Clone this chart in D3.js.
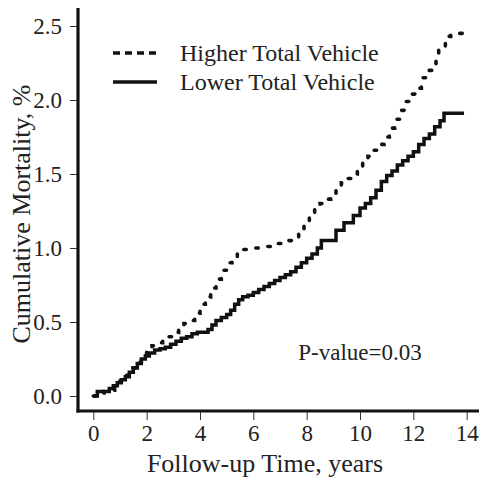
<!DOCTYPE html>
<html>
<head>
<meta charset="utf-8">
<script src="https://cdn.jsdelivr.net/npm/d3@7"></script>
<style>
  body { margin: 0; background: #fff; }
  text { font-family: "Liberation Serif", "Times New Roman", serif; fill: #222; }
</style>
</head>
<body>
<div id="vis"></div>
<script>
// follow-up years and cumulative mortality (%)
var higherTime = [0, 0.2, 0.4, 0.6, 0.8, 1.0, 1.2, 1.4, 1.6, 1.8, 2.0, 2.2, 2.4, 2.6, 2.8, 3.0, 3.2, 3.4, 3.6, 3.8, 4.0, 4.2, 4.4, 4.6, 4.8, 5.0, 5.2, 5.4, 5.6, 6.0, 6.4, 6.8, 7.2, 7.5, 7.7, 7.9, 8.1, 8.3, 8.5, 8.7, 8.9, 9.1, 9.3, 9.5, 9.7, 9.9, 10.1, 10.3, 10.5, 10.7, 10.9, 11.1, 11.3, 11.5, 11.7, 11.9, 12.1, 12.3, 12.5, 12.7, 12.85, 12.95, 13.2, 13.4, 13.97];
var higherVal  = [0, 0.02, 0.03, 0.04, 0.07, 0.10, 0.14, 0.19, 0.23, 0.28, 0.32, 0.34, 0.36, 0.38, 0.40, 0.43, 0.46, 0.49, 0.51, 0.56, 0.62, 0.67, 0.73, 0.79, 0.85, 0.90, 0.94, 0.97, 0.99, 1.00, 1.01, 1.03, 1.05, 1.07, 1.10, 1.15, 1.21, 1.26, 1.30, 1.33, 1.37, 1.41, 1.44, 1.47, 1.50, 1.54, 1.58, 1.62, 1.66, 1.70, 1.75, 1.81, 1.87, 1.93, 1.99, 2.04, 2.08, 2.15, 2.20, 2.23, 2.30, 2.36, 2.43, 2.45, 2.45];

var lowerTime = [0, 0.15, 0.6, 0.75, 0.9, 1.05, 1.2, 1.35, 1.5, 1.65, 1.8, 1.95, 2.1, 2.3, 2.5, 2.7, 2.9, 3.1, 3.3, 3.5, 3.7, 3.9, 4.3, 4.45, 4.6, 4.8, 5.0, 5.15, 5.3, 5.45, 5.6, 5.8, 6.0, 6.2, 6.4, 6.6, 6.8, 7.0, 7.2, 7.4, 7.6, 7.8, 8.0, 8.2, 8.4, 8.55, 9.1, 9.4, 9.75, 10.0, 10.2, 10.4, 10.6, 10.8, 11.0, 11.2, 11.4, 11.6, 11.8, 12.0, 12.2, 12.4, 12.6, 12.8, 13.0, 13.15, 13.9];
var lowerVal  = [0, 0.03, 0.05, 0.07, 0.09, 0.11, 0.13, 0.16, 0.19, 0.22, 0.25, 0.27, 0.29, 0.31, 0.32, 0.33, 0.35, 0.37, 0.39, 0.40, 0.42, 0.43, 0.45, 0.48, 0.51, 0.53, 0.55, 0.58, 0.62, 0.65, 0.67, 0.68, 0.70, 0.72, 0.74, 0.76, 0.78, 0.80, 0.82, 0.84, 0.87, 0.90, 0.93, 0.96, 1.00, 1.05, 1.12, 1.17, 1.22, 1.27, 1.30, 1.34, 1.39, 1.45, 1.49, 1.52, 1.56, 1.59, 1.62, 1.65, 1.70, 1.74, 1.77, 1.82, 1.86, 1.91, 1.91];

var xTicks = [0, 2, 4, 6, 8, 10, 12, 14];
var yTicks = [0, 0.5, 1.0, 1.5, 2.0, 2.5];
var seriesNames = ["Higher Total Vehicle", "Lower Total Vehicle"];
var pLabel = "P-value=0.03";

var W = 479, H = 479;

var x = d3.scaleLinear().domain([0, 14]).range([93.3, 466.7]);
var y = d3.scaleLinear().domain([0, 2.5]).range([396, 26]);

var svg = d3.select("#vis").append("svg")
    .attr("width", W)
    .attr("height", H);

function toPts(ts, vs) {
  return ts.map(function(t, i) { return [t, vs[i]]; });
}

var line = d3.line()
    .x(function(d) { return x(d[0]); })
    .y(function(d) { return y(d[1]); })
    .curve(d3.curveStepAfter);

////////// axes //////////

var yAxis = svg.append("g")
    .attr("transform", "translate(78,0)")
    .call(d3.axisLeft(y).tickValues(yTicks).tickFormat(d3.format(".1f")).tickSize(8).tickPadding(8));
yAxis.select(".domain").remove();
yAxis.selectAll("text").style("font-size", "23px").style("font-family", "Liberation Serif");
yAxis.selectAll("line").attr("stroke", "#333");

var xAxis = svg.append("g")
    .attr("transform", "translate(0,411)")
    .call(d3.axisBottom(x).tickValues(xTicks).tickFormat(d3.format("d")).tickSize(9).tickPadding(5));
xAxis.select(".domain").remove();
xAxis.selectAll("text").style("font-size", "23px").style("font-family", "Liberation Serif");
xAxis.selectAll("line").attr("stroke", "#333");

// thick L-shaped frame
svg.append("line")
    .attr("x1", 78).attr("x2", 78).attr("y1", 8).attr("y2", 412.5)
    .attr("stroke", "#111").attr("stroke-width", 3.2);
svg.append("line")
    .attr("x1", 76.5).attr("x2", W).attr("y1", 411).attr("y2", 411)
    .attr("stroke", "#111").attr("stroke-width", 3.2);

////////// curves //////////

svg.append("path")
    .datum(toPts(lowerTime, lowerVal))
    .attr("d", line)
    .attr("fill", "none")
    .attr("stroke", "#111")
    .attr("stroke-width", 3.5);

svg.append("path")
    .datum(toPts(higherTime, higherVal))
    .attr("d", line)
    .attr("fill", "none")
    .attr("stroke", "#111")
    .attr("stroke-width", 3.6)
    .attr("stroke-linecap", "round")
    .attr("stroke-dasharray", "2.5,11");

////////// legend //////////

var legend = svg.append("g");
seriesNames.forEach(function(name, i) {
  var ly = 53 + i * 29;
  legend.append("line")
      .attr("x1", 113).attr("x2", 157)
      .attr("y1", ly).attr("y2", ly)
      .attr("stroke", "#111")
      .attr("stroke-width", 3.5)
      .attr("stroke-dasharray", i === 0 ? "7,5" : null);
  legend.append("text")
      .attr("x", 180)
      .attr("y", ly + 8)
      .style("font-size", "24px")
      .text(name);
});

////////// labels //////////

svg.append("text")
    .attr("x", 360)
    .attr("y", 360)
    .attr("text-anchor", "middle")
    .style("font-size", "23px")
    .text(pLabel);

svg.append("text")
    .attr("x", 265)
    .attr("y", 472)
    .attr("text-anchor", "middle")
    .style("font-size", "26px")
    .text("Follow-up Time, years");

svg.append("text")
    .attr("transform", "translate(30,214) rotate(-90)")
    .attr("text-anchor", "middle")
    .style("font-size", "26px")
    .text("Cumulative Mortality, %");
</script>
</body>
</html>
